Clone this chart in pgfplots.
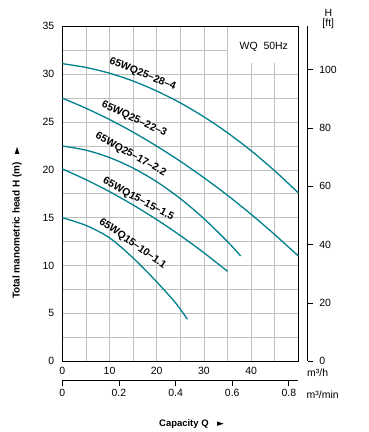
\documentclass[border=0pt]{standalone}
\usepackage{pgfplots}
\pgfplotsset{compat=1.18}
\usepackage{fontspec}
\setmainfont{Liberation Sans}
\newfontfamily\symfont{DejaVu Sans}
\definecolor{curve}{RGB}{0,128,140}
\definecolor{gridc}{RGB}{192,192,192}
\begin{document}
\begin{tikzpicture}
\path[use as bounding box] (0,0) rectangle (369bp,432bp);
\begin{axis}[
  at={(62.3bp,70.7bp)}, anchor=south west,
  scale only axis, width=236bp, height=335bp,
  xmin=0, xmax=50, ymin=0, ymax=35,
  xtick={0,10,20,30,40}, minor xtick={5,15,25,35,45},
  ytick={0,5,...,35}, minor ytick={2.5,7.5,...,32.5},
  grid=both, grid style={gridc, line width=0.7bp}, minor grid style={gridc, line width=0.7bp},
  major tick length=0pt, minor tick length=0pt,
  axis line style={black, line width=1bp},
  ticklabel style={font=\fontsize{10.5}{12}\selectfont},
  /pgf/number format/assume math mode=true,
  yticklabel style={xshift=-4.5bp},
  xticklabel style={yshift=-2.5bp},
  clip=false,
]
\fill[white] (axis cs:35.15,31.2) rectangle (axis cs:49.85,34.9);
\node[font=\fontsize{10.5}{12}\selectfont] at (axis cs:42.7,32.87) {WQ\ \ 50Hz};
% 65WQ25-28-4
\addplot[curve, line width=1.3bp, smooth] coordinates {
(0,31.1) (5,30.7) (10,30.1) (15,29.28) (20,28.24) (25,27.0) (30,25.54) (35,23.88) (40,22.0) (45,19.9) (50,17.6)};
% 65WQ25-22-3
\addplot[curve, line width=1.3bp, smooth] coordinates {
(0,27.5) (5,26.44) (10,25.26) (15,23.94) (20,22.48) (25,20.9) (30,19.18) (35,17.34) (40,15.36) (45,13.24) (50,11.0)};
% 65WQ25-17-2.2
\addplot[curve, line width=1.3bp, smooth] coordinates {
(0,22.5) (5,22.06) (10,21.29) (15,20.19) (20,18.76) (25,17.0) (30,14.91) (35,12.5) (37.8,11.0)};
% 65WQ15-15-1.5
\addplot[curve, line width=1.3bp, smooth] coordinates {
(0,20.1) (5,18.98) (10,17.73) (15,16.33) (20,14.81) (25,13.14) (30,11.34) (35,9.4)};
% 65WQ15-10-1.1
\addplot[curve, line width=1.3bp, smooth] coordinates {
(0,15.0) (5,14.2) (10,12.9) (15,10.8) (20,8.3) (24,6.1) (26.5,4.4)};
\begin{scope}[font=\bfseries\fontsize{10.5}{12}\selectfont]
\node[rotate=-22] at (axis cs:17.0,30.0) {65WQ25--28--4};
\node[rotate=-25] at (axis cs:15.2,25.3) {65WQ25--22--3};
\node[rotate=-29] at (axis cs:14.5,21.6) {65WQ25--17--2.2};
\node[rotate=-28.5] at (axis cs:16.1,16.9) {65WQ15--15--1.5};
\node[rotate=-35] at (axis cs:14.9,12.3) {65WQ15--10--1.1};
\end{scope}
\end{axis}
% feet axis
\begin{axis}[
  at={(297.7bp,70.7bp)}, anchor=south west,
  scale only axis, width=10bp, height=335bp,
  xmin=0, xmax=1, ymin=0, ymax=114.829,
  axis x line=none, axis y line*=right,
  ytick={0,20,...,100}, tick align=outside,
  major tick length=5.3bp,
  axis line style={black, line width=1bp},
  tick style={black, line width=0.8bp},
  ticklabel style={font=\fontsize{10.5}{12}\selectfont},
  /pgf/number format/assume math mode=true,
  yticklabel style={xshift=2.8bp},
]
\addplot[draw=none] coordinates {(0,0)};
\end{axis}
% m3/min axis
\begin{axis}[
  at={(62.3bp,51bp)}, anchor=south west,
  scale only axis, width=236bp, height=10bp,
  xmin=0, xmax=0.83333, ymin=0, ymax=1,
  axis y line=none, axis x line*=bottom,
  xtick={0,0.2,0.4,0.6,0.8}, tick align=outside,
  major tick length=5bp,
  axis line style={black, line width=1bp},
  tick style={black, line width=0.8bp},
  ticklabel style={font=\fontsize{10.5}{12}\selectfont},
  /pgf/number format/assume math mode=true,
  /pgf/number format/fixed,
]
\addplot[draw=none] coordinates {(0,0)};
\end{axis}
\node[font=\fontsize{10.5}{12}\selectfont] at (328.3bp,418.7bp) {H};
\node[font=\fontsize{10.5}{12}\selectfont] at (328.3bp,408bp) {[ft]};
\node[font=\fontsize{10.5}{12}\selectfont, anchor=west, inner sep=0pt] at (307bp,59.7bp) {m³/h};
\node[font=\fontsize{10.5}{12}\selectfont, anchor=west, inner sep=0pt] at (306.5bp,37bp) {m³/min};
\node[font=\bfseries\fontsize{9.5}{11}\selectfont, anchor=west, inner sep=0pt] at (159bp,8bp) {Capacity Q\hspace{0.9em}{\symfont\fontsize{9}{9}\selectfont ►}};
\node[rotate=90, font=\bfseries\fontsize{10}{12}\selectfont, inner sep=0pt] at (17bp,209bp) {Total manometric head H (m)\hspace{0.8em}{\symfont\fontsize{9.5}{9.5}\selectfont ►}};
\end{tikzpicture}
\end{document}
